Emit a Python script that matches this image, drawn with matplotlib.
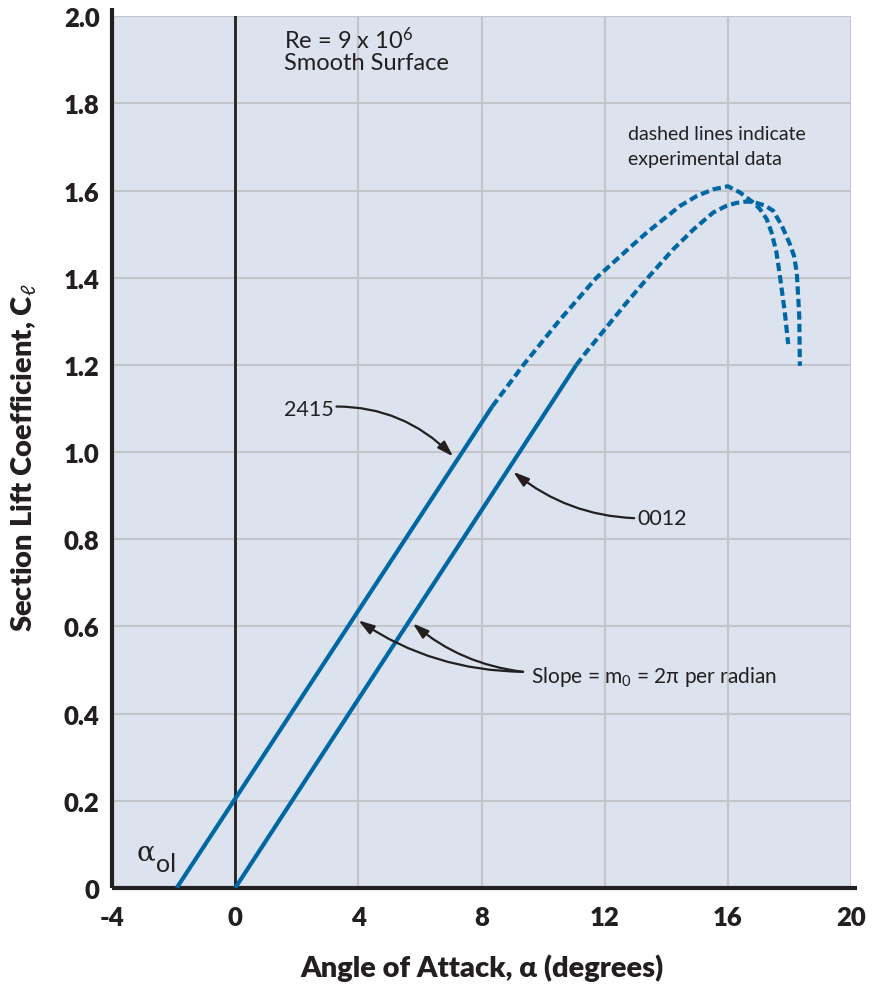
import matplotlib
matplotlib.use("Agg")
import matplotlib.pyplot as plt

# Theoretical (thin-airfoil) lift lines: start/end points
alpha_0012_theory = [0.0, 11.08]
cl_0012_theory = [0.0, 1.20]
alpha_2415_theory = [-1.9, 8.35]
cl_2415_theory = [0.0, 1.105]

# Experimental data (dashed)
alpha_2415_exp = [8.35, 9.36, 10.55, 11.73, 12.28, 12.7, 13.37, 14.45, 15.0, 15.53,
                  16.0, 16.39, 16.82, 17.04, 17.26, 17.42, 17.58, 17.69, 17.85, 17.96]
cl_2415_exp = [1.105, 1.20, 1.304, 1.40, 1.435, 1.462, 1.504, 1.565, 1.588, 1.603,
               1.61, 1.596, 1.573, 1.558, 1.535, 1.504, 1.458, 1.405, 1.321, 1.248]
alpha_0012_exp = [11.08, 11.35, 11.95, 12.7, 13.35, 14.22, 14.9, 15.53, 15.95, 16.29,
                  16.6, 16.83, 17.2, 17.47, 17.75, 18.0, 18.15, 18.24, 18.32, 18.34]
cl_0012_exp = [1.20, 1.225, 1.277, 1.342, 1.396, 1.465, 1.512, 1.55, 1.565, 1.572,
               1.575, 1.574, 1.566, 1.554, 1.52, 1.48, 1.45, 1.412, 1.312, 1.198]

x_ticks = [-4, 0, 4, 8, 12, 16, 20]
x_ticklabels = ["-4", "0", "4", "8", "12", "16", "20"]
y_ticks = [0, 0.2, 0.4, 0.6, 0.8, 1.0, 1.2, 1.4, 1.6, 1.8, 2.0]
y_ticklabels = ["0", "0.2", "0.4", "0.6", "0.8", "1.0", "1.2", "1.4", "1.6", "1.8", "2.0"]

BLUE = "#0067a5"
INK = "#231f20"
BG = "#dce3ef"
GRID = "#c3c5ca"
FONT = ["Lato", "DejaVu Sans"]

plt.rcParams["font.family"] = FONT
plt.rcParams["mathtext.fontset"] = "custom"
plt.rcParams["mathtext.rm"] = "Lato"
plt.rcParams["mathtext.it"] = "Lato:italic"
plt.rcParams["mathtext.bf"] = "Lato:bold"

W, H = 872, 987
fig = plt.figure(figsize=(W / 100, H / 100), dpi=100)
x_left, x_right = 112, 851
y_top, y_bot = 17.3, 889
ax = fig.add_axes([x_left / W, 1 - y_bot / H, (x_right - x_left) / W, (y_bot - y_top) / H])
ax.set_facecolor(BG)
ax.set_xlim(-4, 20)
ax.set_ylim(0, 2.0)

ax.set_xticks(x_ticks)
ax.set_xticklabels(x_ticklabels)
ax.set_yticks(y_ticks)
ax.set_yticklabels(y_ticklabels)
ax.tick_params(axis="both", length=0, labelsize=18.5, colors=INK)
ax.tick_params(axis="x", pad=12)
ax.tick_params(axis="y", pad=9)
for lab in ax.get_xticklabels() + ax.get_yticklabels():
    lab.set_fontweight("heavy")

ax.grid(True, color=GRID, linewidth=1.5, zorder=0)
ax.set_axisbelow(True)

for s in ("top", "right"):
    ax.spines[s].set_visible(False)
for s in ("left", "bottom"):
    ax.spines[s].set_linewidth(3.0)
    ax.spines[s].set_color(INK)
    ax.spines[s].set_capstyle("butt")
ax.spines["left"].set_bounds(0, 2.02)
ax.spines["bottom"].set_bounds(-4, 20.2)

# zero-alpha reference line
ax.axvline(0, color=INK, linewidth=2.0, zorder=2)

# lift curves
ax.plot(alpha_2415_theory, cl_2415_theory, color=BLUE, linewidth=3.0,
        solid_capstyle="butt", zorder=3)
ax.plot(alpha_0012_theory, cl_0012_theory, color=BLUE, linewidth=3.0,
        solid_capstyle="butt", zorder=3)
for a, c in ((alpha_2415_exp, cl_2415_exp), (alpha_0012_exp, cl_0012_exp)):
    ln, = ax.plot(a, c, color=BLUE, linewidth=3.0, zorder=3)
    ln.set_dashes((2.0, 1.0))
    ln.set_dash_capstyle("butt")
    ln.set_solid_joinstyle("round")

# annotations
ax.text(1.6, 1.978, "Re = 9 x 10$^{\\mathrm{6}}$", fontsize=17, color=INK, va="top", ha="left")
ax.text(1.6, 1.918, "Smooth Surface", fontsize=17, color=INK, va="top", ha="left")
ax.text(12.75, 1.75, "dashed lines indicate", fontsize=14, color=INK, va="top", ha="left")
ax.text(12.75, 1.693, "experimental data", fontsize=14, color=INK, va="top", ha="left")

arrow = dict(arrowstyle="-|>,head_length=0.95,head_width=0.3", color=INK, lw=1.6,
             shrinkA=0, shrinkB=0, mutation_scale=10)
ax.annotate("2415", xy=(7.08, 0.99), xytext=(3.2, 1.10), fontsize=15.5, color=INK,
            ha="right", va="center",
            arrowprops=dict(arrow, connectionstyle="arc3,rad=-0.25"))
ax.annotate("0012", xy=(9.03, 0.955), xytext=(13.05, 0.85), fontsize=15.5, color=INK,
            ha="left", va="center",
            arrowprops=dict(arrow, connectionstyle="arc3,rad=-0.2"))
ax.text(9.6, 0.487, "Slope = m$_{\\mathrm{0}}$ = 2\u03c0 per radian", fontsize=15,
        color=INK, ha="left", va="center")
ax.annotate("", xy=(4.0, 0.614), xytext=(9.35, 0.496),
            arrowprops=dict(arrow, connectionstyle="arc3,rad=-0.15"))
ax.annotate("", xy=(5.77, 0.607), xytext=(9.35, 0.496),
            arrowprops=dict(arrow, connectionstyle="arc3,rad=-0.15"))

ax.text(-3.2, 0.065, "\u03b1", fontsize=20, color=INK, family=["DejaVu Serif"],
        ha="left", va="baseline")
ax.text(-2.58, 0.04, "ol", fontsize=18, color=INK, ha="left", va="baseline")

ax.set_xlabel("Angle of Attack, \u03b1 (degrees)", fontsize=21, fontweight="heavy",
              color=INK, labelpad=18)
ax.set_ylabel("Section Lift Coefficient, C$_{\\ell}$", fontsize=21, fontweight="heavy",
              color=INK)
ax.yaxis.set_label_coords(-0.1005, 0.495)

fig.savefig("out.png", dpi=100, facecolor="white")
